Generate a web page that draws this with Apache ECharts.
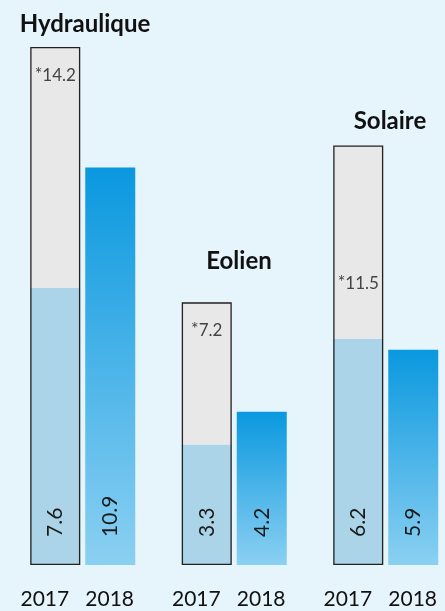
<!DOCTYPE html>
<html>
<head>
<meta charset="utf-8">
<script src="https://cdn.jsdelivr.net/npm/echarts@6/dist/echarts.min.js"></script>
<style>
  html, body { margin: 0; padding: 0; background: #e6f4fc; }
  #chart { width: 445px; height: 611px; }
</style>
</head>
<body>
<div id="chart"></div>
<script>
const categories = ['Hydraulique', 'Eolien', 'Solaire'];
const years = ['2017', '2018'];
const target2017 = [14.2, 7.2, 11.5];
const actual2017 = [7.6, 3.3, 6.2];
const value2018 = [10.9, 4.2, 5.9];

const remaining2017 = target2017.map((t, i) => +(t - actual2017[i]).toFixed(1));

const chart = echarts.init(document.getElementById('chart'), null, { renderer: 'canvas' });

const FONT = 'Lato, "Open Sans", "DejaVu Sans", sans-serif';
const valueLabel = {
  show: true,
  position: 'insideBottom',
  rotate: 90,
  align: 'left',
  verticalAlign: 'middle',
  distance: 28,
  fontFamily: FONT,
  fontSize: 21,
  color: '#1a1a1a'
};

const blueGradient = new echarts.graphic.LinearGradient(0, 0, 0, 1, [
  { offset: 0, color: '#0a98df' },
  { offset: 1, color: '#8bd0f2' }
]);

const titlePos = [[85, 24], [239, 261], [390, 121]];

const option = {
  backgroundColor: '#e6f4fc',
  animation: false,
  grid: { left: 7, width: 454.5, top: 47, bottom: 46, outerBoundsMode: 'none', containLabel: false },
  xAxis: [
    {
      type: 'category',
      data: categories,
      axisLine: { show: false },
      axisTick: { show: false },
      axisLabel: {
        formatter: () => years.join('   '),
        fontFamily: FONT,
        fontSize: 21,
        color: '#111',
        margin: 24,
        padding: [0, 11, 0, 0]
      }
    },
    {
      type: 'category',
      data: categories,
      show: false
    }
  ],
  yAxis: {
    type: 'value',
    min: 0,
    max: Math.max(...target2017),
    show: false,
    splitLine: { show: false }
  },
  series: [
    {
      name: years[0],
      type: 'bar',
      xAxisIndex: 0,
      stack: 'y2017',
      barWidth: 50,
      barGap: '10%',
      data: actual2017,
      itemStyle: { color: '#abd4e8' },
      label: Object.assign({}, valueLabel, { formatter: p => p.value.toFixed(1) })
    },
    {
      name: 'objectif ' + years[0],
      type: 'bar',
      xAxisIndex: 0,
      stack: 'y2017',
      barWidth: 50,
      barGap: '10%',
      data: remaining2017.map((v, i) => i === 2
        ? { value: v, label: { distance: 128 } }
        : v),
      itemStyle: { color: '#e8e8e8' },
      label: {
        show: true,
        position: 'insideTop',
        distance: 18,
        formatter: p => '{s|*}{v|' + target2017[p.dataIndex].toFixed(1) + '}',
        rich: {
          s: { fontFamily: FONT, fontSize: 18, color: '#444', padding: [0, 0, 3, 0] },
          v: { fontFamily: FONT, fontSize: 17, color: '#444' }
        }
      }
    },
    {
      name: years[1],
      type: 'bar',
      xAxisIndex: 0,
      barWidth: 50,
      barGap: '10%',
      data: value2018,
      itemStyle: { color: blueGradient },
      label: Object.assign({}, valueLabel, { formatter: p => p.value.toFixed(1) })
    },
    {
      name: 'cadre ' + years[0],
      type: 'bar',
      xAxisIndex: 1,
      barWidth: 50,
      barGap: '10%',
      z: 5,
      silent: true,
      data: target2017,
      itemStyle: { color: 'rgba(0,0,0,0)', borderColor: '#222', borderWidth: 1.3 }
    },
    {
      name: 'vide',
      type: 'bar',
      xAxisIndex: 1,
      barWidth: 50,
      barGap: '10%',
      silent: true,
      data: []
    }
  ],
  graphic: categories.map((c, i) => ({
    type: 'text',
    x: titlePos[i][0],
    y: titlePos[i][1],
    style: {
      text: c,
      fontFamily: FONT,
      fontWeight: 'bold',
      fontSize: 24,
      fill: '#111',
      textAlign: 'center',
      textVerticalAlign: 'middle'
    }
  }))
};

chart.setOption(option);
</script>
</body>
</html>
